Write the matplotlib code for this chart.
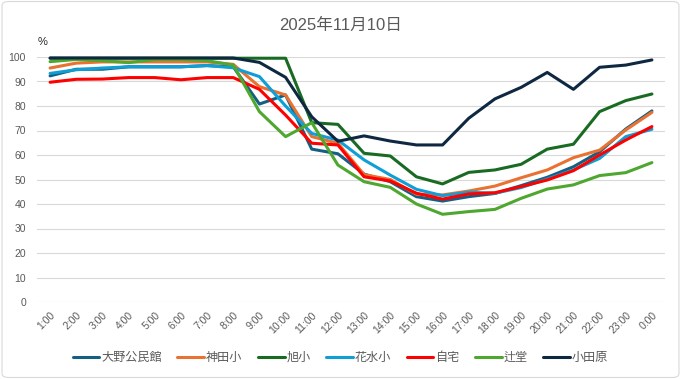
import matplotlib
matplotlib.use('Agg')
import matplotlib.pyplot as plt
from matplotlib.patches import FancyBboxPatch

plt.rcParams['font.family'] = ['Liberation Sans', 'Noto Sans CJK JP', 'DejaVu Sans']

# ---------------------------------------------------------------------------
# Data
# ---------------------------------------------------------------------------
hours = [f'{h}:00' for h in range(1, 24)] + ['0:00']

ono = [92.3, 95, 95, 96, 96, 96, 96.5, 96, 80.8, 84.5, 62.4, 60.5, 52.2, 49.1,
       43, 41.2, 43, 44.3, 47.5, 50.9, 55.2, 61.3, 70.6, 78]
kanda = [95.5, 97.5, 98, 98, 98, 98, 98, 97, 87.9, 84.5, 67.5, 64.8, 52, 50,
         44, 43.7, 45.3, 47.3, 50.7, 53.9, 58.9, 62, 70.2, 77.4]
asahi = [99.5, 99.5, 99.5, 99.5, 99.5, 99.5, 99.5, 99.5, 99.5, 99.5, 73.2, 72.5,
         60.7, 59.6, 51.1, 48.2, 52.9, 53.9, 56.2, 62.4, 64.4, 77.7, 82.2, 84.9]
hanamizu = [93.3, 94.8, 95.5, 96, 96, 96, 96.5, 95.6, 92, 80, 68.8, 66.1, 58,
            51.8, 46, 43.4, 44.8, 44.4, 46.7, 50.2, 53.9, 58.6, 67.5, 70.5]
jitaku = [89.7, 90.9, 91, 91.6, 91.6, 90.7, 91.6, 91.6, 86.8, 76.3, 64.8, 64.1,
          51.1, 49.4, 44.4, 42, 44.1, 44.6, 47.1, 49.8, 53.6, 60, 66.1, 71.6]
tsujido = [98.1, 99, 98.5, 97.7, 99, 99, 98.5, 96.7, 77.7, 67.5, 73.2, 55.9,
           49.1, 46.8, 40, 35.8, 36.9, 37.8, 42.3, 46.1, 47.8, 51.6, 52.8, 56.9]
odawara = [99.6, 99.6, 99.6, 99.6, 99.6, 99.6, 99.6, 99.6, 97.8, 91.7, 75.6,
           65.6, 67.8, 65.7, 64.1, 64.1, 75, 82.9, 87.6, 93.7, 86.8, 95.8, 96.7, 98.8]

series = [
    ('大野公民館', ono, '#156082'),
    ('神田小', kanda, '#E97132'),
    ('旭小', asahi, '#196B24'),
    ('花水小', hanamizu, '#0F9ED5'),
    ('自宅', jitaku, '#FF0000'),
    ('辻堂', tsujido, '#4EA72E'),
    ('小田原', odawara, '#0E2841'),
]

# ---------------------------------------------------------------------------
# Plot
# ---------------------------------------------------------------------------
fig = plt.figure(figsize=(6.81, 3.79), dpi=100)
ax = fig.add_axes([37 / 681, 1 - 302 / 379, 628 / 681, 245 / 379])

x = list(range(len(hours)))
for name, vals, color in series:
    ax.plot(x, vals, color=color, lw=2.2, label=name, clip_on=False,
            solid_capstyle='round', solid_joinstyle='round')

ax.set_xlim(-0.5, len(hours) - 0.5)
ax.set_ylim(0, 100)
ax.set_yticks(range(0, 101, 10))
ax.set_xticks(x)
ax.set_xticklabels(hours, rotation=45, ha='right', rotation_mode='anchor')
ax.tick_params(axis='both', length=0, labelsize=7.5, colors='#595959')
ax.tick_params(axis='x', pad=6)
ax.tick_params(axis='y', pad=8)
ax.grid(axis='y', color='#d9d9d9', lw=0.8)
ax.set_axisbelow(True)
for s in ax.spines.values():
    s.set_visible(False)

fig.text(43 / 681, 1 - 42 / 379, '%', fontsize=8, color='#262626',
         ha='center', va='center')
fig.text(0.5, 1 - 25 / 379, '2025年11月10日', fontsize=12, color='#595959',
         ha='center', va='center')

fig.legend(loc='center', bbox_to_anchor=(0.5, 1 - 358 / 379), ncol=7,
           frameon=False, fontsize=8.7, handlelength=2.2, handletextpad=0.15,
           columnspacing=1.3, labelcolor='#595959')

border = FancyBboxPatch((0.003, 0.004), 0.994, 0.992,
                        boxstyle='round,pad=0,rounding_size=0.01',
                        transform=fig.transFigure, fill=False,
                        edgecolor='#d9d9d9', lw=0.8)
fig.patches.append(border)

fig.savefig('out.png', dpi=100)
